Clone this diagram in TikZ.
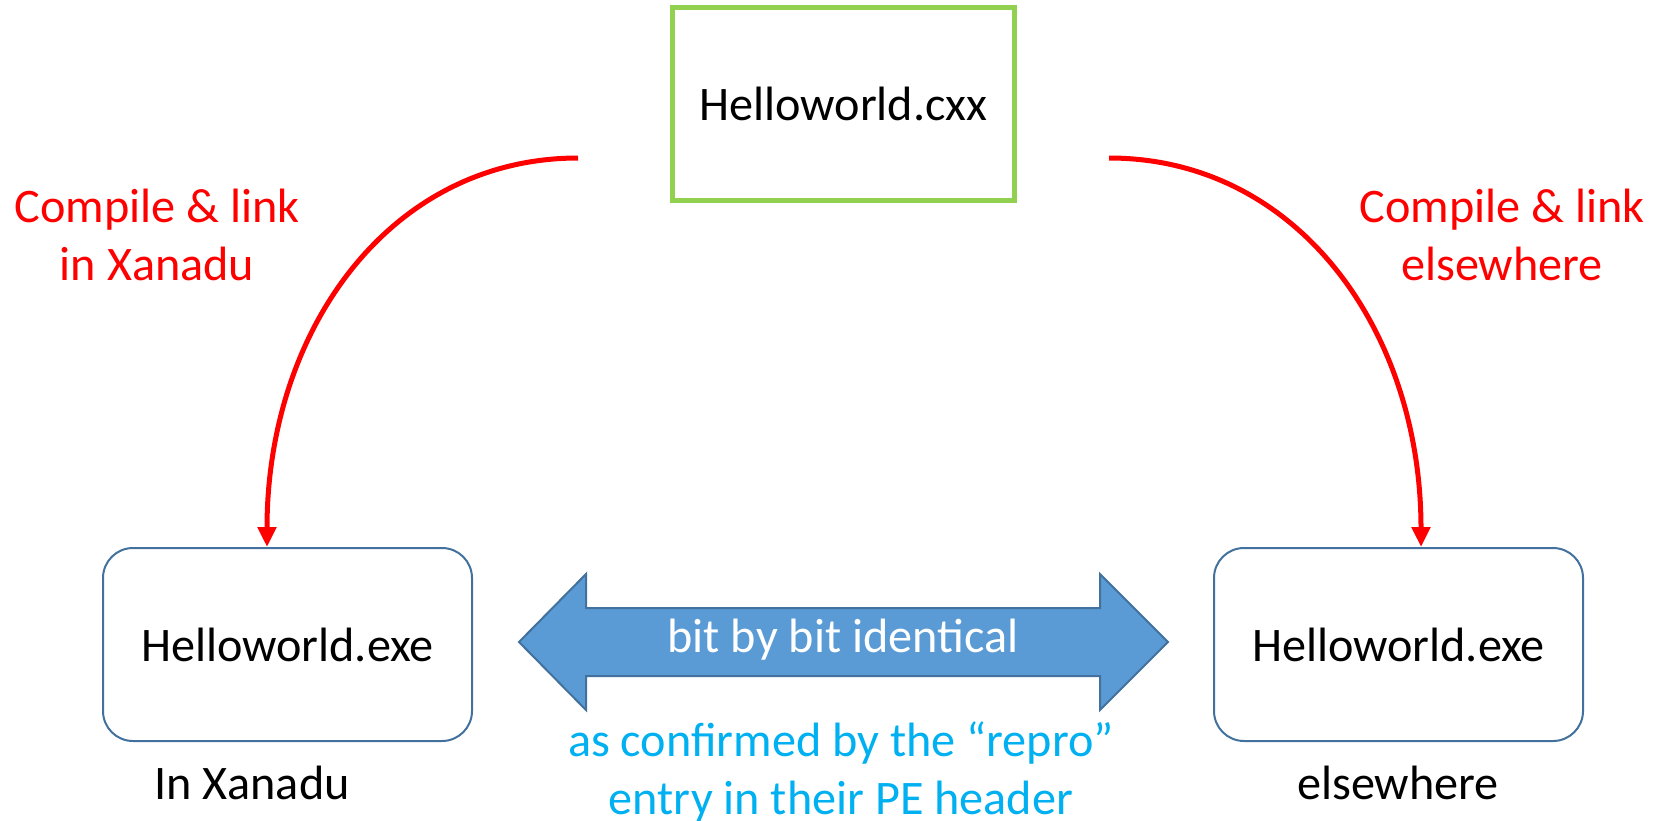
\documentclass[tikz,border=0pt]{standalone}
\usepackage{fontspec}
\setmainfont{Carlito}
\usepackage{xcolor}
\usetikzlibrary{arrows.meta}
\definecolor{csrc}{HTML}{92D050}
\definecolor{cexe}{HTML}{41719C}
\definecolor{cflow}{HTML}{FF0000}
\definecolor{cfill}{HTML}{5B9BD5}
\definecolor{cnote}{HTML}{00B0F0}

\begin{document}
\begin{tikzpicture}[x=0.5pt,y=-0.5pt,>={Triangle[length=10pt,width=9pt]},
  every node/.style={font=\fontsize{24.1}{29}\selectfont,inner sep=0pt},
  srcbox/.style={draw=csrc,line width=2.5pt,minimum width=171pt,minimum height=96.5pt},
  exebox/.style={draw=cexe,line width=1pt,rounded corners=15pt,minimum width=184.5pt,minimum height=96.5pt},
  flow/.style={cflow,line width=2.5pt,->}]
  \useasboundingbox (0,0) rectangle (1653,820);
  \node[srcbox] (src) at (843.5,104) {Helloworld.cxx};
  \node[exebox] (exeL) at (287.5,644.5) {Helloworld.exe};
  \node[exebox] (exeR) at (1398.5,644.5) {Helloworld.exe};
  \node[anchor=base] (nameL) at (252,799) {In Xanadu};
  \node[anchor=base] (nameR) at (1398,799) {elsewhere};
  % the two builds
  \coordinate (srcL) at (578,158);
  \coordinate (srcR) at (1109,158);
  \draw[flow] (srcL) .. controls (390,158) and (267,330) .. ([xshift=-10.25pt]exeL.north);
  \draw[flow] (srcR) .. controls (1297,158) and (1421,330) .. ([xshift=11.25pt]exeR.north);
  \node[cflow,align=center] (buildL) at (157,235) {Compile \& link\\in Xanadu};
  \node[cflow,align=center] (buildR) at (1502,235) {Compile \& link\\elsewhere};
  % identical output
  \draw[cexe,fill=cfill,line width=1pt] (519,642) -- (586,574) -- (586,608) -- (1100,608)
    -- (1100,574) -- (1168,642) -- (1100,710) -- (1100,676) -- (586,676) -- (586,710) -- cycle;
  \node[white] (same) at (843,640) {bit by bit identical};
  \node[cnote,align=center] (note) at (841,772) {as confirmed by the “repro”\\entry in their PE header};
\end{tikzpicture}
\end{document}
